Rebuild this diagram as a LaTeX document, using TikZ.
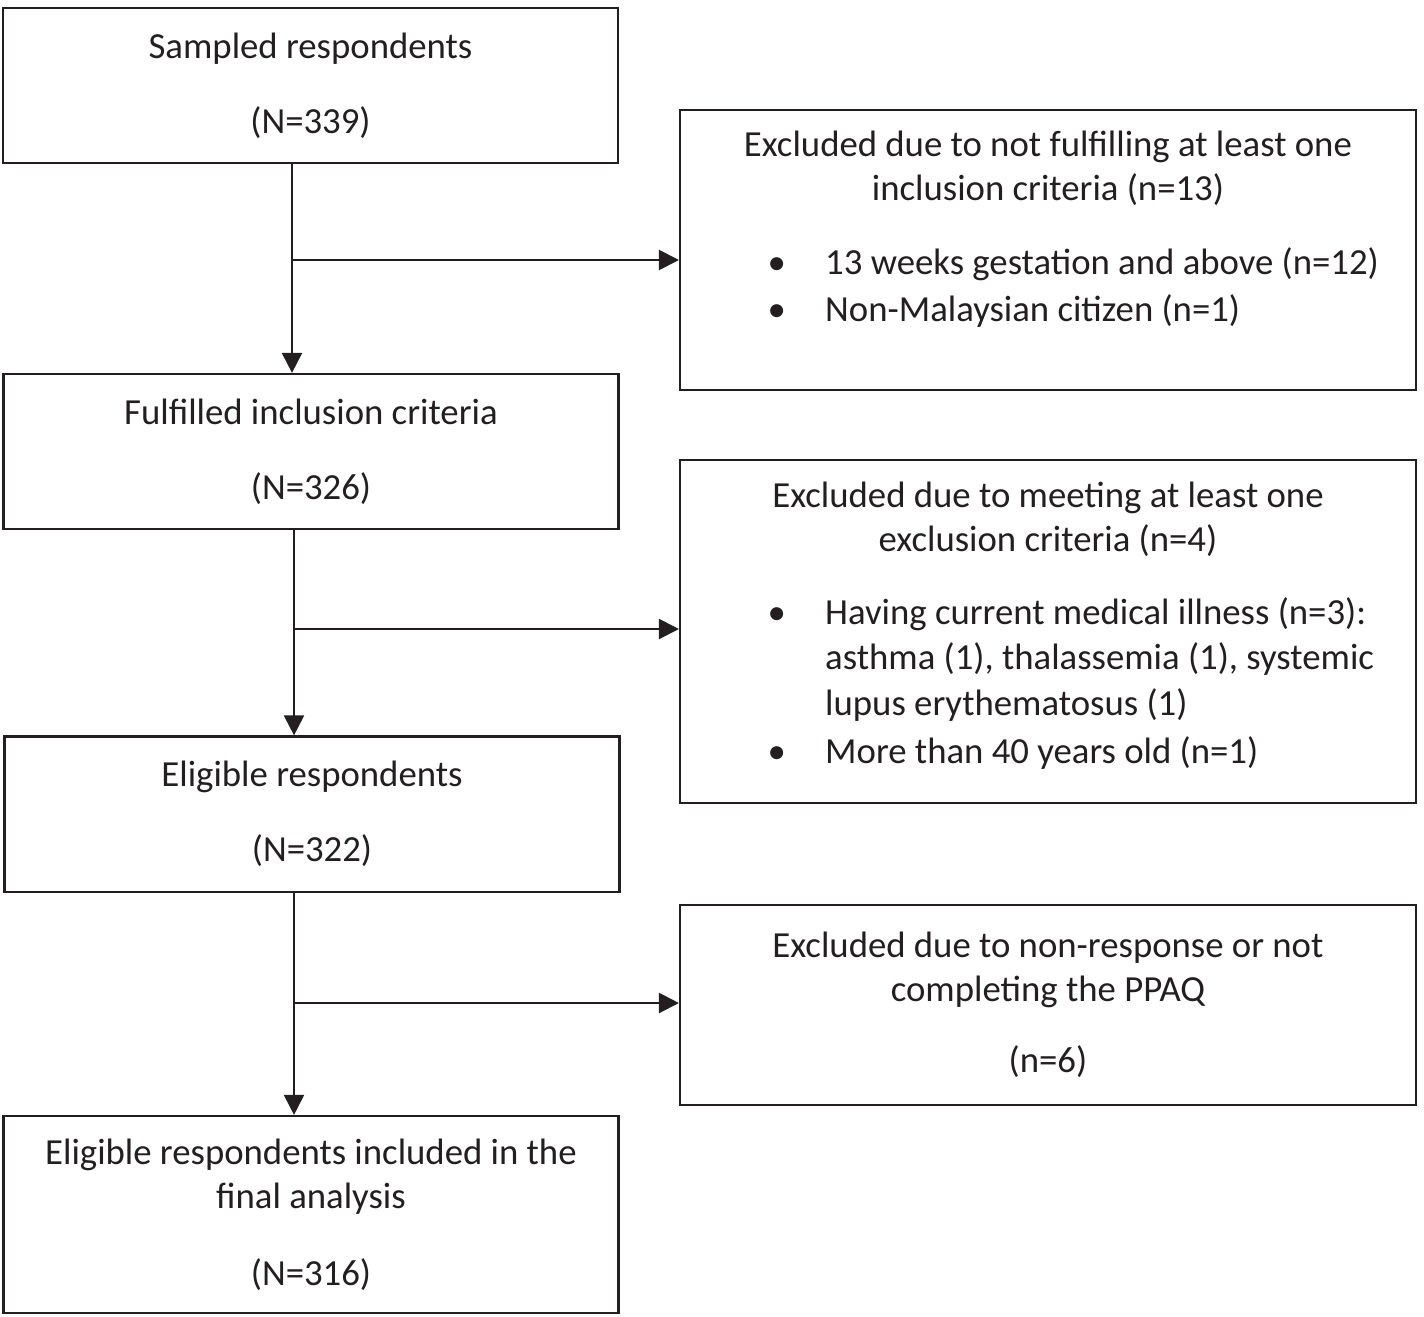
\documentclass[tikz,border=0pt]{standalone}
\usepackage{fontspec}
\setmainfont{Carlito}
\usetikzlibrary{arrows.meta, calc}
\definecolor{inkgray}{RGB}{35,31,32}

\tikzset{
  flowbox/.style={draw=inkgray, rectangle, line width=0.7pt, inner sep=0pt, align=center,
    text=inkgray, font=\fontsize{12.25}{14.67}\selectfont},
  leftbox/.style={flowbox, minimum width=205pt, minimum height=51.7pt},
  rightbox/.style={flowbox, minimum width=245.3pt},
  headtext/.style={align=center, inner sep=0pt, text=inkgray, font=\fontsize{12.25}{14.67}\selectfont},
  listtext/.style={align=left, inner sep=0pt, anchor=west, text=inkgray, font=\fontsize{12.25}{15.3}\selectfont},
  flowarrow/.style={draw=inkgray, fill=inkgray, line width=0.7pt, -{Triangle[length=6.7pt, width=6.7pt]}},
}
\newcommand{\flowitem}{\makebox[19.2pt][l]{\textbullet}}
\newcommand{\flowindent}{\makebox[19.2pt][l]{}}

\begin{document}
\begin{tikzpicture}[x=0.3333pt, y=-0.3333pt]
      \useasboundingbox (0,0) rectangle (1424,1316);

      % left column
      \node[leftbox] (sampled) at (310.5,85.5) {Sampled respondents\\[10.3pt](N=339)};
      \node[leftbox] (fulfilled) at (311,451.5) {Fulfilled inclusion criteria\\[10.3pt](N=326)};
      \node[leftbox] (eligible) at (312,814) {Eligible respondents\\[10.3pt](N=322)};
      \node[leftbox, minimum height=65.7pt] (final) at (311,1214.5)
        {Eligible respondents included in the\\final analysis\\[11pt](N=316)};

      % right column
      \node[rightbox, minimum height=93.3pt] (excl1) at (1048,250) {};
      \node[headtext] (excl1head) at (1048,168)
        {Excluded due to not fulfilling at least one\\inclusion criteria (n=13)};
      \node[listtext, font=\fontsize{12.25}{15.7}\selectfont] (excl1list) at (767,287.5)
        {\flowitem 13 weeks gestation and above (n=12)\\
         \flowitem Non-Malaysian citizen (n=1)};

      \node[rightbox, minimum height=114.3pt] (excl2) at (1048,631.5) {};
      \node[headtext] (excl2head) at (1048,519.5)
        {Excluded due to meeting at least one\\exclusion criteria (n=4)};
      \node[listtext] (excl2list) at (767,683.5)
        {\flowitem Having current medical illness (n=3):\\
         \flowindent asthma (1), thalassemia (1), systemic\\
         \flowindent lupus erythematosus (1)\\[0.7pt]
         \flowitem More than 40 years old (n=1)};

      \node[rightbox, minimum height=66.7pt] (excl3) at (1048,1005)
        {Excluded due to non-response or not\\completing the PPAQ\\[9pt](n=6)};

      % connectors
      \coordinate (axis1) at (292,260);
      \coordinate (axis2) at (294,629);
      \coordinate (axis3) at (294,1003);

      \draw[flowarrow] (sampled.south -| axis1) -- (fulfilled.north -| axis1);
      \draw[flowarrow] (axis1) -- (axis1 -| excl1.west);
      \draw[flowarrow] (fulfilled.south -| axis2) -- (eligible.north -| axis2);
      \draw[flowarrow] (axis2) -- (axis2 -| excl2.west);
      \draw[flowarrow] (eligible.south -| axis3) -- (final.north -| axis3);
      \draw[flowarrow] (axis3) -- (axis3 -| excl3.west);
\end{tikzpicture}
\end{document}
